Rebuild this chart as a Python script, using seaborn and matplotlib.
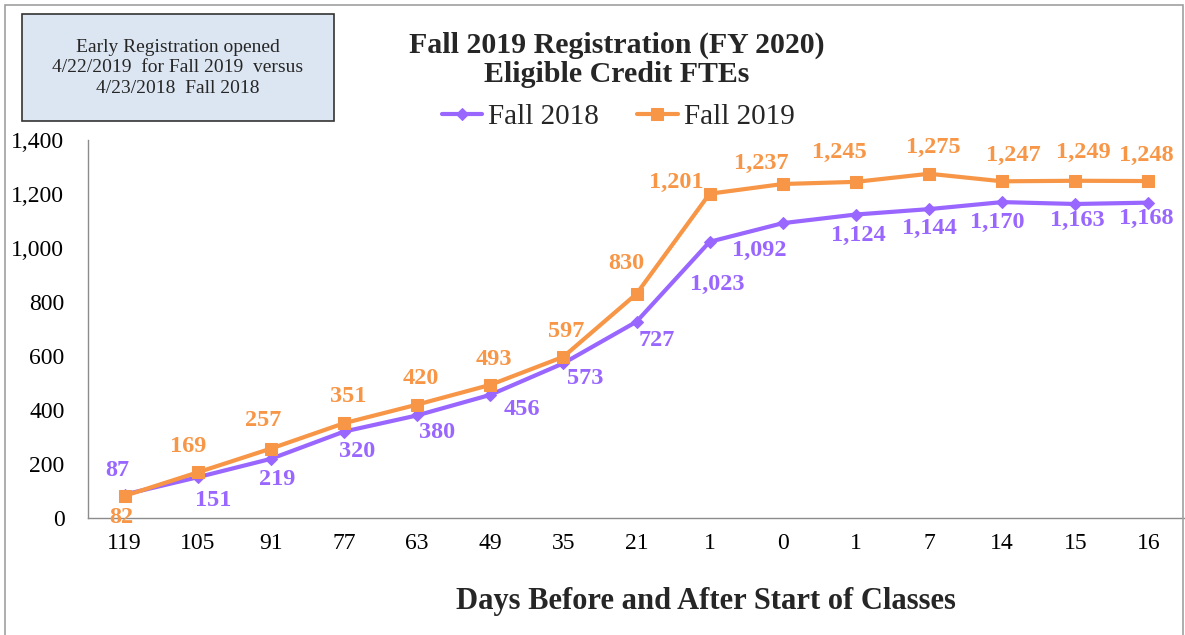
import matplotlib.pyplot as plt
import matplotlib.patches as mpatches
import matplotlib.ticker as mticker
import numpy as np
import pandas as pd
import seaborn as sns

days = ['119', '105', '91', '77', '63', '49', '35', '21', '1', '0', '1', '7', '14', '15', '16']
fall_2018 = [87, 151, 219, 320, 380, 456, 573, 727, 1023, 1092, 1124, 1144, 1170, 1163, 1168]
fall_2019 = [82, 169, 257, 351, 420, 493, 597, 830, 1201, 1237, 1245, 1275, 1247, 1249, 1248]

purple = '#9966FF'
orange = '#F79646'

# label offsets in pixels (dx, dy) from each point
off_2018 = [(-7, 24), (15, -23), (6, -21), (13, -20), (20, -17), (32, -15), (22, -15),
            (20, -19), (8, -43), (-24, -27), (2, -21), (0, -19), (-5, -20), (2, -16), (-2, -16)]
off_2019 = [(-3, -22), (-10, 26), (-8, 28), (4, 27), (4, 26), (4, 25), (3, 25),
            (-10, 30), (-33, 11), (-21, 21), (-17, 29), (4, 26), (11, 26), (8, 28), (-2, 26)]

sns.set_theme(style='white')
plt.rcParams['font.family'] = ['Liberation Serif', 'DejaVu Serif']

df = pd.DataFrame({'pos': np.arange(len(days)), 'f18': fall_2018, 'f19': fall_2019})

fig = plt.figure(figsize=(11.85, 6.35), dpi=100)
ax = fig.add_axes([88/1185, 1 - 518/635, 1 - 88/1185, (518 - 140)/635])

sns.lineplot(data=df, x='pos', y='f18', color=purple, linewidth=3, marker='D',
             markersize=6, markeredgecolor=purple, label='Fall 2018', ax=ax)
sns.lineplot(data=df, x='pos', y='f19', color=orange, linewidth=3, marker='s',
             markersize=9, markeredgecolor=orange, label='Fall 2019', ax=ax)

for i, v in enumerate(fall_2018):
    ax.annotate(f'{v:,}', (i, v), xytext=off_2018[i], textcoords='offset pixels',
                ha='center', va='center', fontsize=17.5, fontweight='bold', color=purple)
for i, v in enumerate(fall_2019):
    ax.annotate(f'{v:,}', (i, v), xytext=off_2019[i], textcoords='offset pixels',
                ha='center', va='center', fontsize=17.5, fontweight='bold', color=orange)

ax.set_xlim(-0.5, len(days) - 0.5)
ax.set_ylim(0, 1400)
ax.set_xticks(np.arange(len(days)))
ax.set_xticklabels(days)
ax.yaxis.set_major_locator(mticker.MultipleLocator(200))
ax.yaxis.set_major_formatter(mticker.FuncFormatter(lambda v, p: f'{int(v):,}'))
ax.tick_params(axis='both', length=0, labelsize=17, colors='black')
ax.tick_params(axis='y', pad=17)
ax.tick_params(axis='x', pad=11)
ax.set_xlabel('')
ax.set_ylabel('')
for s in ['top', 'right']:
    ax.spines[s].set_visible(False)
for s in ['left', 'bottom']:
    ax.spines[s].set_color('#8c8c8c')
    ax.spines[s].set_linewidth(1)

ax.legend(loc='center', bbox_to_anchor=(618/1185, 1 - 117/635), bbox_transform=fig.transFigure,
          ncol=2, frameon=False, fontsize=21, handlelength=1.4, columnspacing=1.3,
          handletextpad=0.2)

fig.text(617/1185, 1 - 45/635, 'Fall 2019 Registration (FY 2020)', ha='center', va='center',
         fontsize=21.5, fontweight='bold')
fig.text(617/1185, 1 - 75/635, 'Eligible Credit FTEs', ha='center', va='center',
         fontsize=21.5, fontweight='bold')
fig.text(706/1185, 1 - 601/635, 'Days Before and After Start of Classes', ha='center',
         va='center', fontsize=22, fontweight='bold')

# note box
fig.patches.append(mpatches.Rectangle((22/1185, 1 - 121/635), 312/1185, 107/635,
                                      transform=fig.transFigure, facecolor='#DCE6F2',
                                      edgecolor='#333333', linewidth=1.2))
fig.text(178/1185, 1 - 68/635,
         'Early Registration opened\n4/22/2019  for Fall 2019  versus\n4/23/2018  Fall 2018',
         ha='center', va='center', fontsize=14, linespacing=1.3)

# outer frame
fig.patches.append(mpatches.Rectangle((5/1185, -0.05), 1178/1185, 1.05 - 5/635,
                                      transform=fig.transFigure, facecolor='none',
                                      edgecolor='#a0a0a0', linewidth=1.2))

fig.savefig('out.png', dpi=100)
